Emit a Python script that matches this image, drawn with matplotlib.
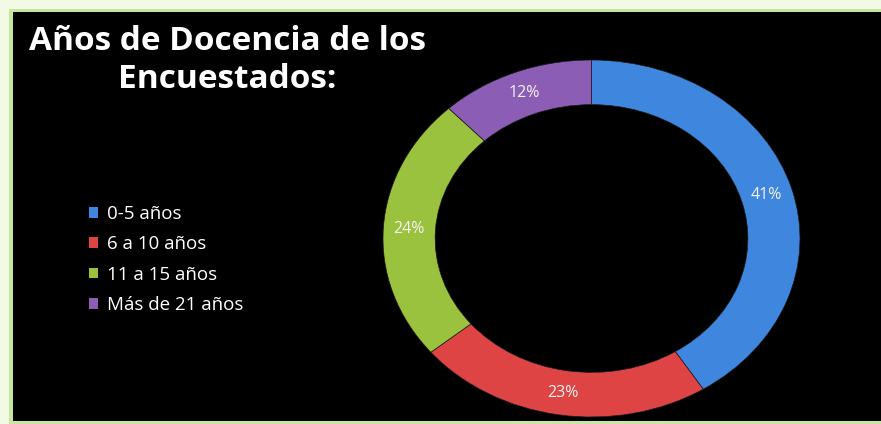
import matplotlib.pyplot as plt
from matplotlib.patches import Rectangle, Patch

# survey data: years of teaching
categorias = ["0-5 años", "6 a 10 años", "11 a 15 años", "Más de 21 años"]
porcentajes = [41, 23, 24, 12]
colores = ["#3F87DE", "#DE4444", "#9BC23F", "#8B5DB5"]
titulo = "Años de Docencia de los\nEncuestados:"

W, H = 881, 424
fig = plt.figure(figsize=(W / 100, H / 100), dpi=100)
fig.patch.set_facecolor("white")

# light green frame and black panel
fig.patches.append(Rectangle((0, 0), 1, 1, transform=fig.transFigure,
                             facecolor="#F2F9E4", edgecolor="none", zorder=-10))
fig.patches.append(Rectangle((9 / W, 0), 1, 1 - 9 / H, transform=fig.transFigure,
                             facecolor="#C8E6A0", edgecolor="none", zorder=-9))
fig.patches.append(Rectangle((13 / W, 3 / H), 1, 1 - 15 / H, transform=fig.transFigure,
                             facecolor="black", edgecolor="none", zorder=-8))

# donut axes, stretched horizontally like the original
x0, x1, y0, y1 = 383, 800, 60, 417
ax = fig.add_axes([x0 / W, 1 - y1 / H, (x1 - x0) / W, (y1 - y0) / H])
ax.set_facecolor("none")
ax.axis("off")

wedges, texts, autotexts = ax.pie(
    porcentajes, colors=colores, startangle=90, counterclock=False,
    radius=1, wedgeprops=dict(width=0.25, edgecolor="#1a1a1a", linewidth=0.5),
    autopct="%d%%", pctdistance=0.875,
    textprops=dict(color="#F2F2F2", fontsize=11.5, family="Open Sans"))
ax.set_aspect("auto")
ax.set_xlim(-1, 1)
ax.set_ylim(-1, 1)

fig.text(227 / W, 1 - 60 / H, titulo, ha="center", va="center", color="white",
         fontsize=24, fontweight="bold", family="Open Sans", linespacing=1.2)

handles = [Patch(facecolor=c, edgecolor="none") for c in colores]
fig.legend(handles, categorias, loc="upper left", bbox_to_anchor=(72 / W, 1 - 188 / H),
           frameon=False, labelcolor="white", prop=dict(family="Open Sans", size=13.5),
           handlelength=0.5, handleheight=0.5, handletextpad=0.45, labelspacing=0.66)

fig.savefig("out.png", dpi=100, facecolor=fig.get_facecolor())
